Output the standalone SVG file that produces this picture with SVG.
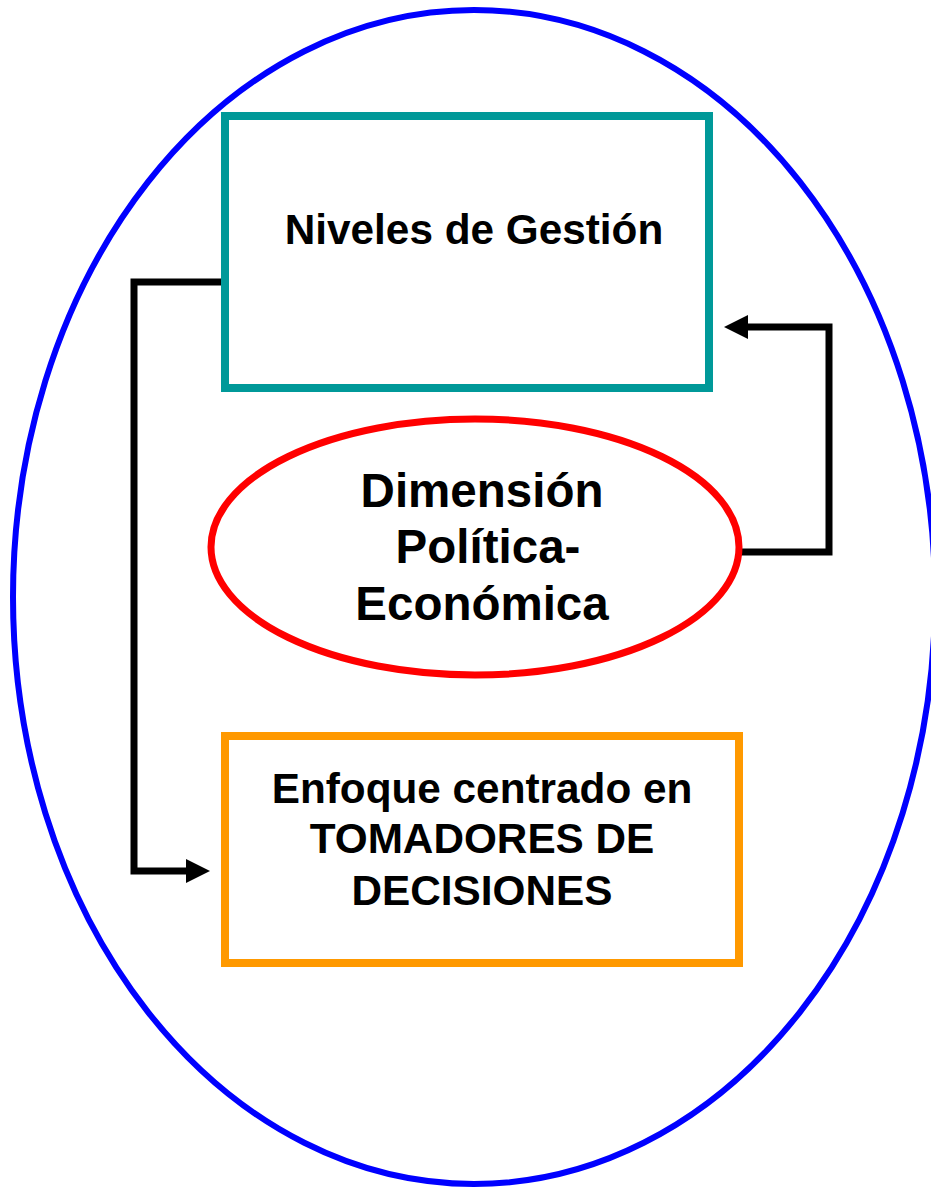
<svg xmlns="http://www.w3.org/2000/svg" width="931" height="1190" viewBox="0 0 931 1190">
<style>
text{font-family:"Liberation Sans",Arial,sans-serif;font-weight:bold;fill:#000;text-anchor:middle}
.conn{fill:none;stroke:#000;stroke-width:7;stroke-linejoin:miter}
</style>
<defs>
<marker id="arr" viewBox="0 0 24 24" markerWidth="24" markerHeight="24" markerUnits="userSpaceOnUse" refX="0" refY="12" orient="auto">
<path d="M0,0 L24,12 L0,24 Z" fill="#000"/>
</marker>
</defs>
<rect width="931" height="1190" fill="#fff"/>
<g id="outer">
<ellipse cx="474" cy="597" rx="461" ry="587" fill="none" stroke="#0000ff" stroke-width="6"/>
</g>
<g id="connectors">
<path class="conn" d="M740,552 H829 V327 H748" marker-end="url(#arr)"/>
<path class="conn" d="M224,282 H134 V871 H186" marker-end="url(#arr)"/>
</g>
<g id="niveles">
<rect x="225" y="116" width="484" height="272" fill="none" stroke="#009999" stroke-width="8"/>
<text x="474" y="244" font-size="42.3">Niveles de Gestión</text>
</g>
<g id="dimension">
<ellipse cx="475" cy="547" rx="264" ry="128" fill="none" stroke="#ff0000" stroke-width="7"/>
<text x="482" y="507" font-size="47.5">Dimensión</text>
<text x="488" y="563" font-size="47.5">Política-</text>
<text x="482" y="620" font-size="47.5">Económica</text>
</g>
<g id="enfoque">
<rect x="225" y="736" width="514" height="227" fill="none" stroke="#ff9900" stroke-width="8"/>
<text x="482" y="803" font-size="42.3">Enfoque centrado en</text>
<text x="482" y="853" font-size="42.3">TOMADORES DE</text>
<text x="482" y="905" font-size="42.3">DECISIONES</text>
</g>
</svg>
